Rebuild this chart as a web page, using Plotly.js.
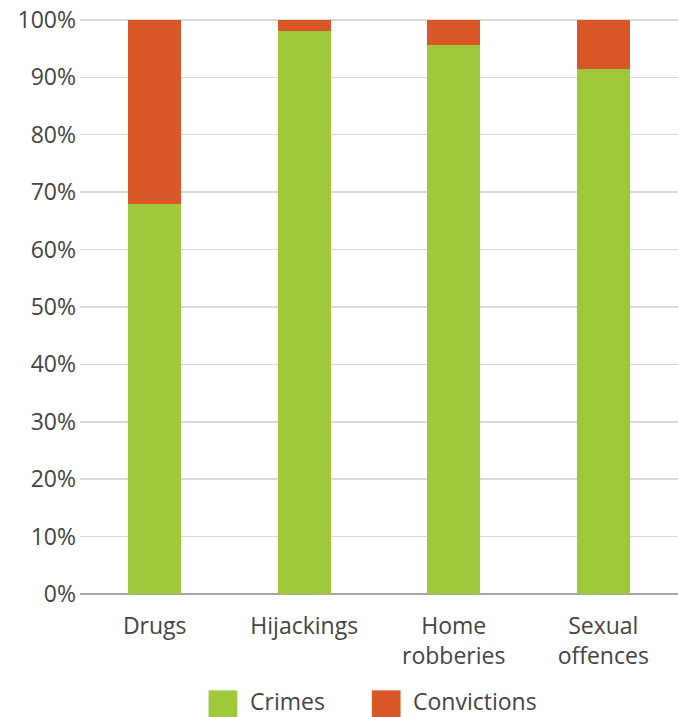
<!DOCTYPE html>
<html>
<head>
<meta charset="utf-8">
<script src="https://cdn.plot.ly/plotly-3.0.1.min.js"></script>
<style>html,body{margin:0;padding:0;background:#fff;}#chart{width:678px;height:717px;}</style>
</head>
<body>
<div id="chart"></div>
<script>
const categories = ["Drugs", "Hijackings", "Home<br>robberies", "Sexual<br>offences"];
const crimes = [68, 98, 95.7, 91.5];
const convictions = [32, 2, 4.3, 8.5];
const seriesNames = ["Crimes", "Convictions"];
const colors = ["#A0C83B", "#D95726"];
const yTickVals = [0, 10, 20, 30, 40, 50, 60, 70, 80, 90, 100];
const yTickText = yTickVals.map(v => v + "%");

const font = "Open Sans, sans-serif";
const txtColor = "#444444";
const traces = [
  {type: "bar", name: seriesNames[0], x: categories, y: crimes, marker: {color: colors[0]}, showlegend: false, hoverinfo: "skip"},
  {type: "bar", name: seriesNames[1], x: categories, y: convictions, marker: {color: colors[1]}, showlegend: false, hoverinfo: "skip"}
];

const legendShapes = [];
const legendAnn = [];
const legendX = [0.215, 0.488];
seriesNames.forEach((n, i) => {
  legendShapes.push({type: "rect", xref: "paper", yref: "paper", x0: legendX[i], x1: legendX[i] + 0.048, y0: -0.214, y1: -0.167, fillcolor: colors[i], line: {width: 0}});
  legendAnn.push({xref: "paper", yref: "paper", x: legendX[i] + 0.066, y: -0.185, xanchor: "left", yanchor: "middle", height: 26, valign: "middle", text: n, showarrow: false, font: {family: font, size: 23, color: txtColor}});
});

const layout = {
  width: 678, height: 717,
  margin: {l: 80, r: 0, t: 17, b: 123},
  barmode: "stack",
  bargap: 0.647,
  paper_bgcolor: "#fff", plot_bgcolor: "#fff",
  font: {family: font, size: 23, color: txtColor},
  xaxis: {type: "category", showgrid: false, showline: false, ticks: "", tickfont: {family: font, size: 23, color: txtColor}, ticklabelstandoff: 16},
  yaxis: {range: [0, 100.5], tickvals: yTickVals, ticktext: yTickText, showgrid: true, gridcolor: "#d9d9d9", gridwidth: 1.5, zeroline: true, zerolinecolor: "#a6a6a6", zerolinewidth: 2, showline: false, ticks: "", tickfont: {family: font, size: 23, color: txtColor}, ticklabelstandoff: 3, fixedrange: true},
  shapes: legendShapes,
  annotations: legendAnn
};

Plotly.newPlot("chart", traces, layout, {displayModeBar: false, staticPlot: true});
</script>
</body>
</html>
